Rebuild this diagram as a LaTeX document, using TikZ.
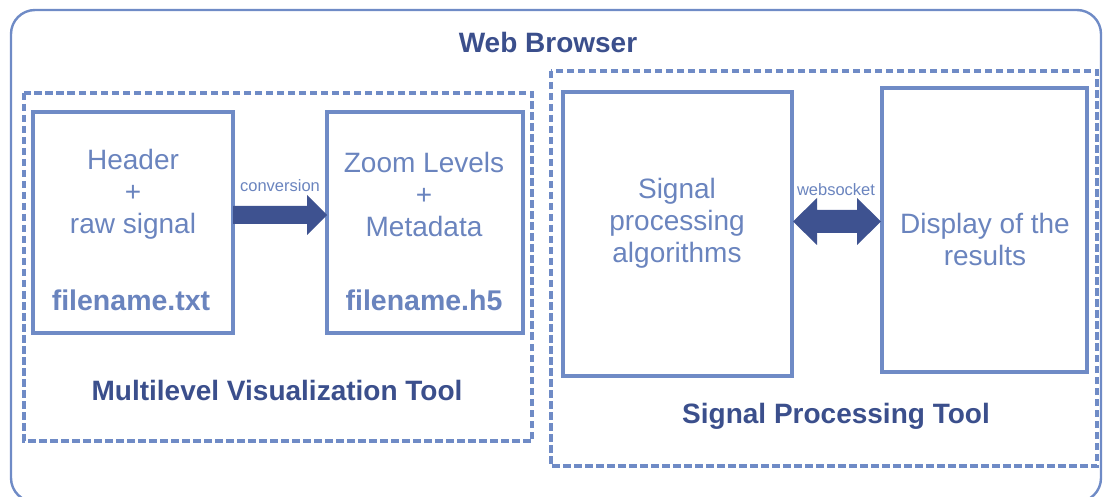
\documentclass[tikz,border=0pt]{standalone}
\usepackage{fontspec}
\setmainfont{Liberation Sans}
\definecolor{frame}{HTML}{6F8BC6}
\definecolor{navy}{HTML}{3B4F8C}
\definecolor{soft}{HTML}{6A84BE}
\definecolor{arrowfill}{HTML}{3E5290}
\tikzset{
  panel/.style={draw=frame, line width=3.2pt},
  group/.style={draw=frame, line width=3.2pt, dash pattern=on 7.5pt off 3.5pt},
  title/.style={text=navy, font=\fontsize{28}{32}\selectfont\bfseries, inner sep=0pt},
  body/.style={text=soft, font=\fontsize{28}{32}\selectfont, align=center, inner sep=0pt},
  fname/.style={text=soft, font=\fontsize{28.5}{32}\selectfont\bfseries, inner sep=0pt},
  tag/.style={text=soft, font=\fontsize{16.5}{18}\selectfont, inner sep=0pt},
}
\begin{document}
\begin{tikzpicture}[x=1pt,y=-1pt]
\useasboundingbox (0,0) rectangle (1109,497);
% browser frame
\draw[draw=frame, line width=2.4pt, rounded corners=24pt] (11,10) rectangle (1101,502);
\node[title] (web) at (548,42) {Web Browser};
% left group
\draw[group] (24,93) rectangle (532,441);
\node[title] (mvt) at (277,390) {Multilevel Visualization Tool};
\draw[panel] (33,112) rectangle (233,333);
\coordinate (b1e) at (233,215);
\node[body] (b1) at (133,194) {Header\\+\\raw signal};
\node[fname] (f1) at (131,300) {filename.txt};
\draw[panel] (327,112) rectangle (523,333);
\coordinate (b2w) at (327,215);
\node[body] (b2) at (424,194) {Zoom Levels\\+\\Metadata};
\node[fname] (f2) at (424,300) {filename.h5};
% right group
\draw[group] (551,71) rectangle (1097,466);
\node[title] (spt) at (836,416) {Signal Processing Tool};
\draw[panel] (563,92) rectangle (792,376);
\coordinate (b3e) at (793,221.5);
\node[body] (b3) at (677,223) {Signal\\processing\\algorithms};
\draw[panel] (882,88) rectangle (1087,372);
\coordinate (b4w) at (881,221.5);
\node[body] (b4) at (985,239) {Display of the\\results};
% block arrows between the panels
\fill[arrowfill] ([yshift=-9]b1e) -- ([xshift=-20,yshift=-9]b2w) -- ([xshift=-20,yshift=-20]b2w)
  -- (b2w) -- ([xshift=-20,yshift=20]b2w) -- ([xshift=-20,yshift=9]b2w) -- ([yshift=9]b1e) -- cycle;
\node[tag] (conv) at (280,186) {conversion};
\fill[arrowfill] (b3e) -- ([xshift=24,yshift=-23.5]b3e) -- ([xshift=24,yshift=-11.5]b3e)
  -- ([xshift=-24,yshift=-11.5]b4w) -- ([xshift=-24,yshift=-23.5]b4w) -- (b4w)
  -- ([xshift=-24,yshift=23.5]b4w) -- ([xshift=-24,yshift=11.5]b4w)
  -- ([xshift=24,yshift=11.5]b3e) -- ([xshift=24,yshift=23.5]b3e) -- cycle;
\node[tag] (ws) at (836,190) {websocket};
\end{tikzpicture}
\end{document}
